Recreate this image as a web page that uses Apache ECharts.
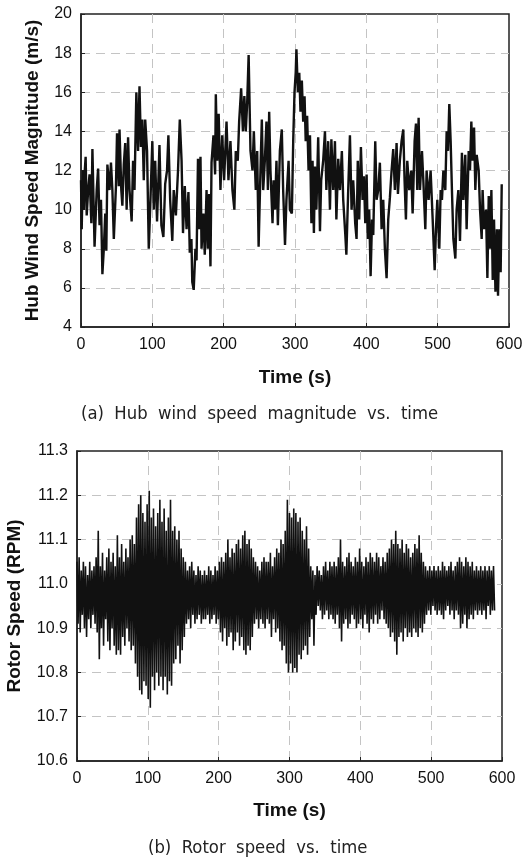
<!DOCTYPE html>
<html>
<head>
<meta charset="utf-8">
<script src="https://cdn.jsdelivr.net/npm/echarts@6/dist/echarts.min.js"></script>
<style>
  html, body { margin: 0; padding: 0; background: #fff; }
  #chart { width: 531px; height: 860px; }
</style>
</head>
<body>
<div id="chart"></div>
<script>
// (a) hub wind speed (time s, speed m/s)
const windTime = [
  0, 1, 2.5, 4, 5, 6.5, 8, 10, 12, 14.5, 16, 19, 22, 24, 26, 28, 30, 32, 34, 35.5,
  37, 40, 42, 44, 46, 49, 50.5, 53, 54, 56.5, 58, 60, 62, 64, 66, 68, 71, 73, 75, 77.6,
  80, 82, 84, 86, 88, 90, 92.6, 95, 97, 100, 102, 104, 106.6, 108.5, 110, 112.7, 115.5, 118, 120.6, 122.5,
  125, 128, 130, 133, 136, 138.5, 141, 143, 145.5, 148, 150.6, 152.5, 154.8, 156, 158, 160.4, 162, 164, 165.6, 167.5,
  169, 171.6, 173.5, 176, 177.7, 179.6, 181.5, 183, 185.7, 188, 189, 191, 193, 195.5, 198, 200.6, 204, 206.7, 209.5, 212.3,
  215, 217, 219.8, 221.7, 224.5, 227, 229, 231, 233, 235, 237.6, 240.4, 242.3, 245, 247, 249, 251.6, 253.5, 255.4, 257.7,
  260, 262, 263.8, 265.6, 268.5, 270, 272, 274, 276, 278.8, 281.5, 283.4, 286, 288, 291, 292.8, 295.6, 297.5, 299.3, 301,
  302, 304, 306, 307.7, 309.6, 311.5, 313.4, 315, 317, 319, 321, 323, 324.6, 326.5, 328, 330, 332.5, 335, 336.7, 339.5,
  342, 344, 346.5, 349, 351, 353.6, 356, 358, 360.6, 363, 365.7, 367.6, 370.4, 372, 374.6, 377, 379.3, 381.6, 384.4, 386.3,
  388, 390, 392.4, 394.7, 396.6, 398.5, 400.4, 402, 404, 406, 408, 409.7, 412.5, 414.4, 416.7, 419, 421.4, 423.7, 426, 428.4,
  430.7, 433, 435.4, 437.7, 440, 442.4, 444.3, 447, 449.4, 451.8, 453.6, 455.5, 457.4, 460.2, 463, 464.9, 467.7, 469.6, 471.4, 473.3,
  475.2, 478, 479.9, 482.7, 484.5, 487.3, 490.1, 493, 495.8, 497.6, 499.5, 502.3, 504.2, 506, 508, 510.7, 512.6, 514.5, 516.3, 518.2,
  520, 522, 524.8, 526.6, 529, 531.3, 534, 536, 538.7, 540.6, 543.5, 545.3, 547.2, 549, 551, 552.8, 554.7, 557.5, 559.4, 561.7,
  563, 565, 567.8, 569.7, 571.6, 573.5, 575.3, 577.2, 579, 581, 583, 584.6, 586.5, 588.3, 589.8
];
const windSpeed = [
  11.5, 9.0, 12.0, 10.0, 11.8, 12.7, 9.7, 11.0, 11.8, 9.3, 13.1, 8.1, 11.0, 12.1, 9.2, 10.5, 6.7, 8.0, 9.8, 7.9,
  12.3, 11.0, 12.4, 11.0, 8.5, 11.2, 13.9, 11.2, 14.1, 11.0, 10.2, 12.3, 13.4, 10.0, 13.7, 11.0, 9.4, 12.5, 11.0, 16.0,
  13.0, 16.3, 13.2, 14.6, 11.5, 14.6, 13.0, 8.0, 10.1, 13.5, 10.0, 12.5, 9.4, 11.5, 13.3, 9.2, 8.6, 11.3, 12.0, 13.8,
  10.5, 8.4, 11.0, 9.7, 12.0, 14.6, 12.5, 8.8, 11.2, 9.0, 10.9, 7.8, 8.5, 6.3, 5.9, 8.0, 7.4, 12.6, 9.0, 12.7,
  8.0, 9.8, 7.7, 11.0, 8.0, 10.8, 7.1, 12.4, 13.8, 11.8, 15.9, 12.5, 14.9, 11.0, 13.8, 11.5, 14.5, 11.5, 13.5, 11.0,
  10.0, 13.0, 12.5, 14.5, 16.2, 14.0, 15.8, 14.0, 15.5, 17.9, 13.0, 12.0, 14.0, 11.0, 13.0, 8.1, 12.0, 14.6, 11.0, 12.5,
  14.5, 11.0, 15.0, 12.0, 9.3, 11.5, 10.0, 12.5, 9.2, 13.0, 14.1, 11.0, 8.2, 10.5, 12.5, 10.0, 9.8, 13.5, 16.0, 17.0,
  18.2, 16.0, 17.0, 15.0, 16.6, 14.5, 15.8, 13.5, 14.8, 12.0, 13.8, 9.3, 12.5, 8.8, 12.2, 10.0, 13.7, 8.9, 11.5, 12.5,
  14.0, 11.0, 13.5, 10.0, 13.6, 11.0, 13.5, 9.5, 12.6, 11.0, 13.0, 10.5, 8.8, 7.7, 11.0, 13.8, 10.0, 11.5, 9.3, 8.5,
  12.5, 9.5, 13.2, 10.5, 11.7, 9.3, 11.8, 8.5, 10.0, 6.6, 9.5, 8.7, 13.5, 10.5, 11.0, 12.4, 9.0, 10.5, 8.0, 6.5,
  9.5, 10.6, 12.0, 13.1, 11.0, 13.4, 10.8, 12.5, 13.5, 14.1, 11.5, 9.5, 12.5, 11.0, 12.0, 9.8, 13.5, 14.4, 11.0, 14.7,
  11.0, 13.0, 11.5, 9.0, 12.0, 10.5, 12.0, 9.5, 6.9, 9.0, 10.5, 8.0, 11.0, 10.5, 12.0, 11.0, 14.0, 13.0, 15.4, 13.5,
  11.0, 8.5, 7.5, 10.0, 11.0, 8.4, 12.9, 10.5, 12.8, 9.0, 13.0, 12.0, 14.5, 12.5, 14.2, 11.0, 12.8, 12.0, 10.0, 8.5,
  11.0, 9.0, 10.0, 6.5, 10.7, 8.0, 11.0, 6.4, 9.5, 5.8, 9.0, 5.6, 9.0, 6.8, 11.3
];

// (b) rotor speed: upper and lower swing every 3 s from t = 0 (RPM)
const rotorStep = 3;
const rotorHigh = [
  11.05, 11.06, 11.03, 11.05, 11.04, 11.02, 11.05, 11.03, 11.04, 11.06,
  11.12, 11.04, 11.07, 11.03, 11.06, 11.08, 11.05, 11.07, 11.04, 11.11,
  11.06, 11.09, 11.05, 11.08, 11.06, 11.10, 11.11, 11.09, 11.15, 11.18,
  11.20, 11.16, 11.14, 11.18, 11.21, 11.15, 11.17, 11.13, 11.16, 11.19,
  11.14, 11.17, 11.12, 11.15, 11.19, 11.12, 11.13, 11.10, 11.12, 11.08,
  11.06, 11.05, 11.03, 11.04, 11.05, 11.03, 11.02, 11.04, 11.03, 11.02,
  11.03, 11.02, 11.04, 11.03, 11.02, 11.04, 11.03, 11.05, 11.06, 11.05,
  11.07, 11.10, 11.06, 11.08, 11.07, 11.09, 11.10, 11.08, 11.11, 11.12,
  11.09, 11.10, 11.08, 11.06, 11.05, 11.04, 11.03, 11.05, 11.06, 11.05,
  11.05, 11.07, 11.04, 11.06, 11.08, 11.07, 11.10, 11.09, 11.12, 11.19,
  11.16, 11.15, 11.17, 11.16, 11.14, 11.15, 11.12, 11.10, 11.13, 11.08,
  11.04, 11.03, 11.02, 11.04, 11.03, 11.02, 11.04, 11.05, 11.03, 11.05,
  11.04, 11.05, 11.04, 11.06, 11.10, 11.05, 11.04, 11.06, 11.07, 11.05,
  11.04, 11.06, 11.05, 11.08, 11.05, 11.04, 11.06, 11.05, 11.07, 11.06,
  11.05, 11.07, 11.06, 11.04, 11.06, 11.05, 11.07, 11.08, 11.10, 11.09,
  11.12, 11.09, 11.08, 11.10, 11.07, 11.09, 11.08, 11.06, 11.07, 11.09,
  11.08, 11.11, 11.07, 11.05, 11.04, 11.03, 11.04, 11.03, 11.04, 11.03,
  11.04, 11.03, 11.05, 11.04, 11.03, 11.04, 11.05, 11.03, 11.04, 11.05,
  11.06, 11.05, 11.04, 11.06, 11.05, 11.04, 11.05, 11.03, 11.04, 11.03,
  11.04, 11.03, 11.04, 11.03, 11.04, 11.03, 11.04
];
const rotorLow = [
  10.91, 10.89, 10.93, 10.90, 10.88, 10.92, 10.90, 10.93, 10.91, 10.89,
  10.83, 10.90, 10.86, 10.92, 10.87, 10.85, 10.90, 10.86, 10.84, 10.85,
  10.84, 10.88, 10.86, 10.90, 10.87, 10.85, 10.86, 10.82, 10.79, 10.76,
  10.75, 10.78, 10.77, 10.74, 10.72, 10.79, 10.76, 10.80, 10.77, 10.79,
  10.76, 10.79, 10.75, 10.78, 10.77, 10.82, 10.83, 10.86, 10.82, 10.85,
  10.88, 10.91, 10.92, 10.90, 10.93, 10.91, 10.92, 10.93, 10.91, 10.92,
  10.92, 10.93, 10.91, 10.92, 10.93, 10.91, 10.92, 10.89, 10.87, 10.90,
  10.86, 10.88, 10.89, 10.85, 10.87, 10.89, 10.86, 10.88, 10.85, 10.84,
  10.86, 10.85, 10.88, 10.91, 10.92, 10.90, 10.92, 10.91, 10.90, 10.92,
  10.91, 10.88, 10.92, 10.89, 10.90, 10.87, 10.85, 10.86, 10.82, 10.80,
  10.82, 10.80, 10.81, 10.80, 10.84, 10.83, 10.85, 10.86, 10.84, 10.88,
  10.92, 10.86, 10.93, 10.95, 10.94, 10.92, 10.93, 10.94, 10.92, 10.93,
  10.92, 10.91, 10.93, 10.90, 10.87, 10.91, 10.92, 10.90, 10.91, 10.93,
  10.92, 10.90, 10.91, 10.92, 10.90, 10.93, 10.91, 10.89, 10.92, 10.91,
  10.93, 10.91, 10.92, 10.94, 10.92, 10.91, 10.90, 10.88, 10.89, 10.87,
  10.84, 10.88, 10.89, 10.87, 10.90, 10.88, 10.89, 10.88, 10.90, 10.89,
  10.88, 10.90, 10.89, 10.91, 10.93, 10.94, 10.93, 10.95, 10.94, 10.93,
  10.94, 10.93, 10.92, 10.94, 10.95, 10.93, 10.94, 10.92, 10.94, 10.93,
  10.90, 10.91, 10.93, 10.90, 10.92, 10.93, 10.92, 10.94, 10.93, 10.94,
  10.93, 10.94, 10.92, 10.95, 10.93, 10.94, 10.94
];

const windData = windTime.map((t, i) => [t, windSpeed[i]]);
const rotorData = [];
rotorHigh.forEach((h, i) => {
  rotorData.push([i * rotorStep, h]);
  rotorData.push([i * rotorStep + rotorStep / 2, rotorLow[i]]);
});

const FONT = 'Liberation Sans, Arial, sans-serif';
const CAPTION_FONT = 'DejaVu Sans Condensed, DejaVu Sans, sans-serif';
const gridLine = {
  show: true, showMinLine: false, showMaxLine: false,
  lineStyle: { color: '#c4c4c4', type: [9, 6], width: 1 }
};
const axisLineStyle = { show: true, lineStyle: { color: '#222', width: 1.5 } };
const tick = { show: true, inside: true, length: 4, lineStyle: { color: '#222' } };
const label = { color: '#111', fontSize: 16, fontFamily: FONT };
const nameStyle = { color: '#111', fontSize: 19, fontWeight: 'bold', fontFamily: FONT };

const chart = echarts.init(document.getElementById('chart'), null, { renderer: 'canvas' });

chart.setOption({
  backgroundColor: '#fff',
  animation: false,
  title: [
    {
      text: '(a)  Hub  wind  speed  magnitude  vs.  time',
      left: 81, top: 405, padding: 0,
      textStyle: { fontSize: 18.3, fontWeight: 'normal', color: '#222', fontFamily: CAPTION_FONT }
    },
    {
      text: '(b)  Rotor  speed  vs.  time',
      left: 148, top: 839, padding: 0,
      textStyle: { fontSize: 18.3, fontWeight: 'normal', color: '#222', fontFamily: CAPTION_FONT }
    }
  ],
  grid: [
    {
      left: 81, top: 14, width: 428, height: 313, outerBoundsMode: 'none',
      show: true, borderColor: '#222', borderWidth: 1.5
    },
    {
      left: 77, top: 451, width: 425, height: 310, outerBoundsMode: 'none',
      show: true, borderColor: '#222', borderWidth: 1.5
    }
  ],
  xAxis: [
    {
      gridIndex: 0, type: 'value', min: 0, max: 600, interval: 100,
      name: 'Time (s)', nameLocation: 'middle', nameGap: 41, nameTextStyle: nameStyle,
      axisLine: axisLineStyle, axisTick: tick, axisLabel: Object.assign({ margin: 10 }, label),
      splitLine: gridLine
    },
    {
      gridIndex: 1, type: 'value', min: 0, max: 600, interval: 100,
      name: 'Time (s)', nameLocation: 'middle', nameGap: 40, nameTextStyle: nameStyle,
      axisLine: axisLineStyle, axisTick: tick, axisLabel: Object.assign({ margin: 10 }, label),
      splitLine: gridLine
    }
  ],
  yAxis: [
    {
      gridIndex: 0, type: 'value', min: 4, max: 20, interval: 2,
      name: 'Hub Wind Speed Magnitude (m/s)', nameLocation: 'middle', nameGap: 39, nameTextStyle: nameStyle,
      axisLine: axisLineStyle, axisTick: tick, axisLabel: Object.assign({ margin: 9 }, label),
      splitLine: gridLine
    },
    {
      gridIndex: 1, type: 'value', min: 10.6, max: 11.3, interval: 0.1,
      name: 'Rotor Speed (RPM)', nameLocation: 'middle', nameGap: 53, nameTextStyle: nameStyle,
      axisLine: axisLineStyle, axisTick: tick,
      axisLabel: Object.assign({ margin: 9, formatter: v => v.toFixed(1) }, label),
      splitLine: gridLine
    }
  ],
  series: [
    {
      type: 'line', xAxisIndex: 0, yAxisIndex: 0, data: windData,
      showSymbol: false, lineStyle: { color: '#111', width: 2.4 }
    },
    {
      type: 'line', xAxisIndex: 1, yAxisIndex: 1, data: rotorData,
      showSymbol: false, lineStyle: { color: '#111', width: 1.6 }
    }
  ]
});
</script>
</body>
</html>
